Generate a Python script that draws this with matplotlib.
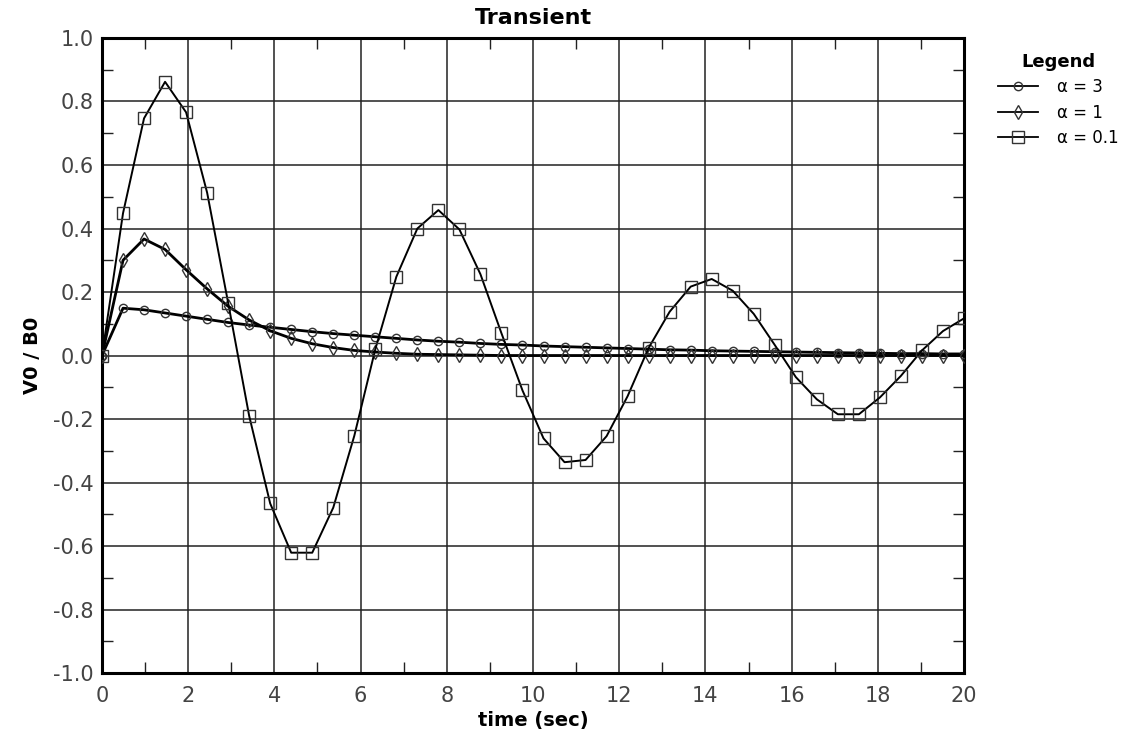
import matplotlib.pyplot as plt
import numpy as np

plt.rcParams["axes.unicode_minus"] = False

# samples are evenly spaced over 0..20 s, 42 points (one every 20/41 s)
time_sec = np.linspace(0, 20, 42)

alpha_3 = [0.0, 0.149, 0.144, 0.134, 0.124, 0.114, 0.104, 0.096, 0.089, 0.082,
           0.075, 0.069, 0.064, 0.059, 0.054, 0.049, 0.045, 0.042, 0.038, 0.035,
           0.033, 0.030, 0.028, 0.026, 0.024, 0.022, 0.020, 0.018, 0.017, 0.015,
           0.014, 0.013, 0.012, 0.011, 0.010, 0.009, 0.008, 0.007, 0.006, 0.006,
           0.005, 0.005]

alpha_1 = [0.0, 0.300, 0.367, 0.334, 0.270, 0.210, 0.155, 0.112, 0.078, 0.054,
           0.037, 0.025, 0.016, 0.011, 0.007, 0.004, 0.003, 0.002, 0.001, 0.0,
           0.0, 0.0, 0.0, 0.0, 0.0, 0.0, 0.0, 0.0, 0.0, 0.0,
           0.0, 0.0, 0.0, 0.0, 0.0, 0.0, 0.0, 0.0, 0.0, 0.0,
           0.0, 0.0]

alpha_01 = [0.0, 0.448, 0.747, 0.862, 0.766, 0.513, 0.166, -0.190, -0.466, -0.621,
            -0.621, -0.479, -0.253, 0.020, 0.248, 0.400, 0.458, 0.397, 0.256, 0.070,
            -0.110, -0.261, -0.336, -0.329, -0.254, -0.128, 0.024, 0.138, 0.217, 0.241,
            0.204, 0.131, 0.033, -0.068, -0.138, -0.185, -0.185, -0.132, -0.064, 0.016,
            0.077, 0.117]

y_ticks = [-1.0, -0.8, -0.6, -0.4, -0.2, 0.0, 0.2, 0.4, 0.6, 0.8, 1.0]

series = [
    ("α = 3", alpha_3, "o", 6, 2.0),
    ("α = 1", alpha_1, "d", 7.5, 2.0),
    ("α = 0.1", alpha_01, "s", 8.5, 1.4),
]

fig = plt.figure(figsize=(11.22, 7.45), dpi=100)
ax = fig.add_axes([0.0909, 0.0966, 0.7683, 0.8524])

for label, values, marker, msize, lw in series:
    ax.plot(time_sec, values, color="black", lw=lw, marker=marker, markersize=msize,
            mfc="none", mec="#333333", mew=1.0, label=label, zorder=3)

ax.set_xlim(0, 20)
ax.set_ylim(-1.0, 1.0)
ax.set_xticks(np.arange(0, 21, 2))
ax.set_yticks(y_ticks)
ax.set_yticklabels([f"{v:.1f}" for v in y_ticks])
ax.set_xticks(np.arange(1, 20, 2), minor=True)
ax.set_yticks(np.arange(-0.9, 1.0, 0.2), minor=True)

ax.grid(True, which="major", color="#222222", lw=1.1)
ax.tick_params(which="major", length=0, labelsize=15, labelcolor="#444444")
ax.tick_params(axis="y", which="major", pad=6)
ax.tick_params(axis="x", which="major", pad=9)
ax.tick_params(which="minor", direction="in", length=8, width=1.0,
               top=True, right=True, color="#222222")
for spine in ax.spines.values():
    spine.set_linewidth(2.2)

ax.set_title("Transient", fontsize=16, fontweight="bold", pad=10)
ax.set_xlabel("time (sec)", fontsize=14, fontweight="bold", labelpad=4)
ax.set_ylabel("V0 / B0", fontsize=14, fontweight="bold", labelpad=8)

leg = ax.legend(loc="upper left", bbox_to_anchor=(1.03, 0.99), frameon=False,
                title="Legend", title_fontproperties={"weight": "bold", "size": 13},
                fontsize=12, borderpad=0, handlelength=2.4, handletextpad=1.1,
                labelspacing=0.45)
for line in leg.get_lines():
    line.set_linewidth(1.3)

fig.savefig("out.png", dpi=100)
